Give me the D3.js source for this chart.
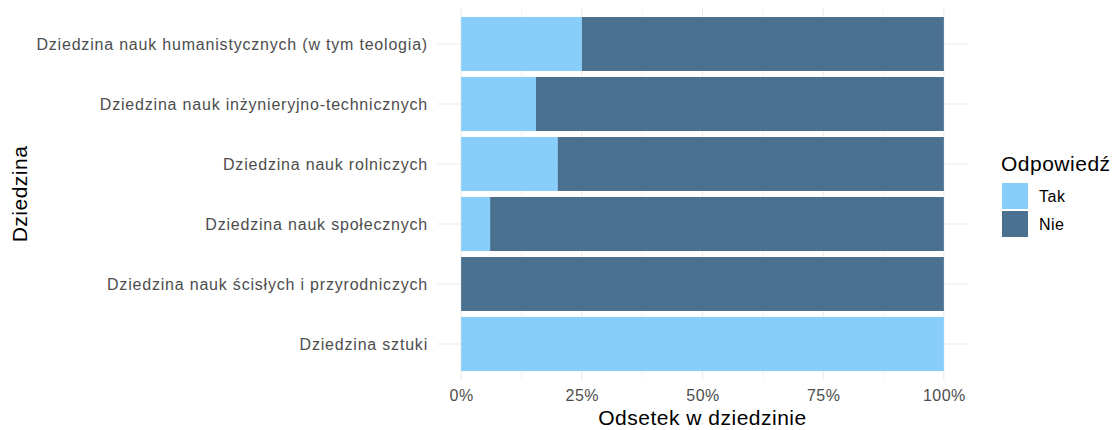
<!DOCTYPE html>
<html><head><meta charset="utf-8">
<script src="https://cdn.jsdelivr.net/npm/d3@7"></script>
<style>body{margin:0;background:#fff}svg{display:block;font-family:"Liberation Sans",Arial,sans-serif}</style>
</head><body><svg id="c" width="1112" height="430"></svg>
<script>
const categories = [
  "Dziedzina nauk humanistycznych (w tym teologia)",
  "Dziedzina nauk inżynieryjno-technicznych",
  "Dziedzina nauk rolniczych",
  "Dziedzina nauk społecznych",
  "Dziedzina nauk ścisłych i przyrodniczych",
  "Dziedzina sztuki"
];
const takValues = [0.25, 0.155, 0.20, 0.06, 0.0, 1.0];
const nieValues = [0.75, 0.845, 0.80, 0.94, 1.0, 0.0];
const seriesNames = ["Tak", "Nie"];
const seriesColors = ["#87CEFA", "#4B7190"];
const xTicks = [0, 0.25, 0.5, 0.75, 1];
const xTickLabels = ["0%", "25%", "50%", "75%", "100%"];
const xMinor = [0.125, 0.375, 0.625, 0.875];

const FONT = "Liberation Sans, Arial, sans-serif";
const svg = d3.select("#c");
const panel = {left: 437, right: 968, top: 8, bottom: 380};
const x = d3.scaleLinear().domain([-0.05, 1.05]).range([panel.left, panel.right]);
const step = (panel.bottom - panel.top) / (categories.length - 1 + 1.2);
const y = d3.scalePoint().domain(categories)
  .range([panel.top + 0.6 * step, panel.bottom - 0.6 * step]);
const bh = step * 0.9;

// grid
const g = svg.append("g");
g.selectAll(".minor").data(xMinor).join("line")
  .attr("x1", d => x(d)).attr("x2", d => x(d))
  .attr("y1", panel.top).attr("y2", panel.bottom)
  .attr("stroke", "#ebebeb").attr("stroke-width", 0.55);
g.selectAll(".major").data(xTicks).join("line")
  .attr("x1", d => x(d)).attr("x2", d => x(d))
  .attr("y1", panel.top).attr("y2", panel.bottom)
  .attr("stroke", "#ebebeb").attr("stroke-width", 1.1);
g.selectAll(".hy").data(categories).join("line")
  .attr("x1", panel.left).attr("x2", panel.right)
  .attr("y1", d => y(d)).attr("y2", d => y(d))
  .attr("stroke", "#ebebeb").attr("stroke-width", 1.1);

// bars
const rows = categories.map((c, i) => ({c, tak: takValues[i], nie: nieValues[i]}));
const bars = svg.append("g");
rows.forEach(r => {
  bars.append("rect").attr("x", x(0)).attr("width", x(r.tak) - x(0))
    .attr("y", y(r.c) - bh / 2).attr("height", bh).attr("fill", seriesColors[0]);
  bars.append("rect").attr("x", x(r.tak)).attr("width", x(r.tak + r.nie) - x(r.tak))
    .attr("y", y(r.c) - bh / 2).attr("height", bh).attr("fill", seriesColors[1]);
});

// axes
const xAxis = d3.axisBottom(x).tickValues(xTicks).tickFormat((d, i) => xTickLabels[i]).tickSize(0).tickPadding(10);
const xa = svg.append("g").attr("transform", `translate(0,${panel.bottom})`).call(xAxis);
xa.select(".domain").remove();
xa.selectAll("text").attr("font-size", 16).attr("letter-spacing", 0.5).attr("fill", "#4d4d4d").attr("font-family", FONT);

const yAxis = d3.axisLeft(y).tickSize(0).tickPadding(9);
const ya = svg.append("g").attr("transform", `translate(${panel.left},0)`).call(yAxis);
ya.select(".domain").remove();
ya.selectAll("text").attr("font-size", 16).attr("letter-spacing", 0.8).attr("fill", "#4d4d4d").attr("font-family", FONT);

svg.append("text").attr("x", (x(0) + x(1)) / 2).attr("y", 425)
  .attr("text-anchor", "middle").attr("font-size", 21).attr("letter-spacing", 0.5).attr("fill", "#000")
  .text("Odsetek w dziedzinie");
svg.append("text").attr("transform", `translate(27,${(panel.top + panel.bottom) / 2}) rotate(-90)`)
  .attr("text-anchor", "middle").attr("font-size", 21).attr("letter-spacing", 0.5).attr("fill", "#000")
  .text("Dziedzina");

// legend
const lg = svg.append("g");
lg.append("text").attr("x", 1001).attr("y", 171).attr("font-size", 21).attr("letter-spacing", 0.5).attr("fill", "#000").text("Odpowiedź");
seriesNames.forEach((s, i) => {
  lg.append("rect").attr("x", 1002).attr("y", 183 + i * 28).attr("width", 26).attr("height", 26).attr("fill", seriesColors[i]);
  lg.append("text").attr("x", 1039).attr("y", 196 + i * 28).attr("dy", "0.35em")
    .attr("font-size", 16).attr("letter-spacing", 0.5).attr("fill", "#000").text(s);
});
</script></body></html>
